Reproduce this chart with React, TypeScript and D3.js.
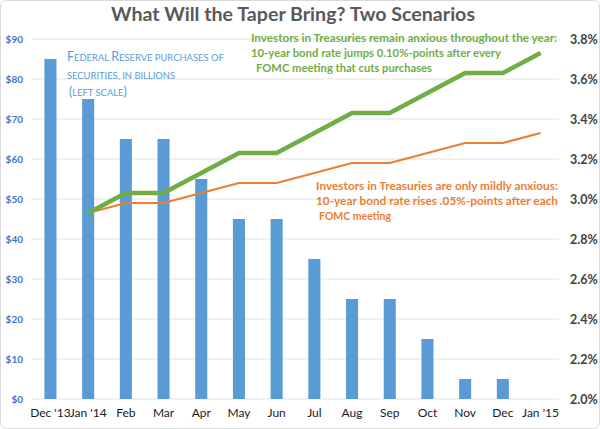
import React from "react";
import * as d3 from "d3";

const months = ["Dec '13", "Jan '14", "Feb", "Mar", "Apr", "May", "Jun", "Jul", "Aug", "Sep", "Oct", "Nov", "Dec", "Jan '15"];
const purchases: (number | null)[] = [85, 75, 65, 65, 55, 45, 45, 35, 25, 25, 15, 5, 5, null];
const anxiousRate: (number | null)[] = [null, 2.93, 3.03, 3.03, 3.13, 3.23, 3.23, 3.33, 3.43, 3.43, 3.53, 3.63, 3.63, 3.73];
const mildRate: (number | null)[] = [null, 2.93, 2.98, 2.98, 3.03, 3.08, 3.08, 3.13, 3.18, 3.18, 3.23, 3.28, 3.28, 3.33];
const leftTicks = [0, 10, 20, 30, 40, 50, 60, 70, 80, 90];
const rightTicks = [2.0, 2.2, 2.4, 2.6, 2.8, 3.0, 3.2, 3.4, 3.6, 3.8];

const title = "What Will the Taper Bring? Two Scenarios";
const greenNote = [
  "Investors in Treasuries remain anxious throughout the year:",
  "10-year bond rate jumps 0.10%-points after every",
  "FOMC meeting that cuts purchases",
];
const orangeNote = [
  "Investors in Treasuries are only mildly anxious:",
  "10-year bond rate rises .05%-points after each",
  "FOMC meeting",
];
// small-caps note: [text, isLarge] segments per line
const blueNote: [string, boolean][][] = [
  [["F", true], ["EDERAL ", false], ["R", true], ["ESERVE PURCHASES OF", false]],
  [["SECURITIES, IN BILLIONS", false]],
  [["(", true], ["LEFT SCALE", false], [")", true]],
];

const W = 600;
const H = 429;
const FONT = "Lato, 'Open Sans', sans-serif";

export default function App() {
  const x = d3
    .scaleBand<string>()
    .domain(months)
    .range([31.6, 559.4])
    .paddingInner(0.68)
    .paddingOuter(0.34);
  const yL = d3.scaleLinear().domain([0, 90]).range([399, 39]);
  const yR = d3.scaleLinear().domain([2.0, 3.8]).range([399, 39]);
  const cx = (m: string) => (x(m) as number) + x.bandwidth() / 2;

  const line = d3
    .line<number | null>()
    .defined((d) => d != null)
    .x((_, i) => cx(months[i]))
    .y((d) => yR(d as number));

  const blueX = [67, 67, 69];
  const greenLen = [306, 250, 176];
  const orangeLen = [242, 242, 72];

  return (
    <div style={{ position: "absolute", left: 0, top: 0 }}>
      <svg width={W} height={H} style={{ display: "block", fontFamily: FONT }}>
        <rect x={0} y={0} width={W} height={H} fill="#fff" />
        <rect x={0.5} y={0.5} width={W - 1} height={H - 1} rx={6} fill="none" stroke="#d9d9d9" />
        <text x={293} y={21} textAnchor="middle" fontSize={18} fontWeight="bold" fill="#595959" textLength={364} lengthAdjust="spacingAndGlyphs">
          {title}
        </text>
        {leftTicks.map((t) => (
          <line key={"g" + t} x1={31.6} x2={559.4} y1={yL(t)} y2={yL(t)} stroke="#e3e3e3" strokeWidth={1} />
        ))}
        {purchases.map((v, i) =>
          v == null ? null : (
            <rect key={"b" + i} x={x(months[i])} y={yL(v)} width={x.bandwidth()} height={yL(0) - yL(v)} fill="#5b9bd5" />
          )
        )}
        {leftTicks.map((t) => (
          <text key={"l" + t} x={23} y={yL(t) + 3.5} textAnchor="end" fontSize={10} fontWeight="bold" fill="#4472c4">
            {"$" + t}
          </text>
        ))}
        {rightTicks.map((t) => (
          <text key={"r" + t} x={570} y={yR(t) + 4.5} textAnchor="start" fontSize={12.5} fontWeight="bold" fill="#404040">
            {t.toFixed(1) + "%"}
          </text>
        ))}
        {months.map((m) => (
          <text key={"x" + m} x={cx(m)} y={417} textAnchor="middle" fontSize={12} fill="#1a1a1a">
            {m}
          </text>
        ))}
        <path d={line(mildRate) || ""} fill="none" stroke="#ed7d31" strokeWidth={2} strokeLinejoin="round" />
        <path d={line(anxiousRate) || ""} fill="none" stroke="#70ad47" strokeWidth={4.5} strokeLinejoin="round" />
        {blueNote.map((segs, i) => (
          <text key={"bn" + i} x={blueX[i]} y={61 + i * 17.5} fontSize={9.4} fill="#5b9bd5">
            {segs.map(([s, big], j) => (
              <tspan key={j} fontSize={big ? 12.5 : 9.4}>{s}</tspan>
            ))}
          </text>
        ))}
        {greenNote.map((s, i) => (
          <text key={"gn" + i} x={i === 2 ? 256 : 251} y={42 + i * 15} fontSize={12} fontWeight="bold" fill="#70ad47"
            textLength={greenLen[i]} lengthAdjust="spacingAndGlyphs">
            {s}
          </text>
        ))}
        {orangeNote.map((s, i) => (
          <text key={"on" + i} x={i === 2 ? 319 : 316} y={190 + i * 15} fontSize={11.8} fontWeight="bold" fill="#ed7d31"
            textLength={orangeLen[i]} lengthAdjust="spacingAndGlyphs">
            {s}
          </text>
        ))}
      </svg>
    </div>
  );
}
